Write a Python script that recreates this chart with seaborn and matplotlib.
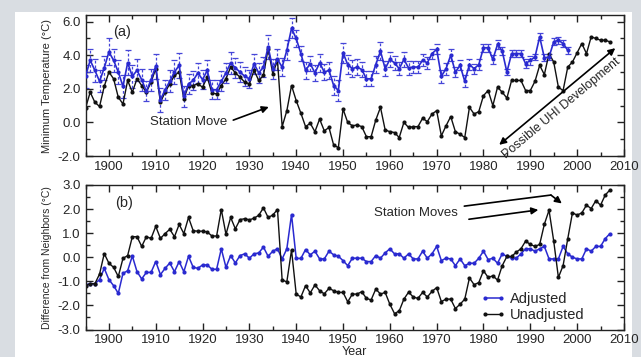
import numpy as np
import pandas as pd
import seaborn as sns
import matplotlib
matplotlib.use('Agg')
import matplotlib.pyplot as plt
from matplotlib.ticker import MultipleLocator, FormatStrFormatter
from matplotlib.patches import Rectangle

# years
years_all = np.arange(1895, 2008)
years_adj_top = np.arange(1895, 1999)

# (a) minimum temperature, unadjusted (black)
unadj_top = [0.85, 1.8, 1.2, 0.95, 2.15,
             3.0, 2.6, 1.5, 1.1, 2.5, 1.8, 2.6, 2.2, 1.8, 2.4,
             3.2, 1.2, 1.8, 2.3, 2.8, 3.0, 1.4, 2.2, 2.2, 2.3,
             2.1, 2.7, 1.75, 1.7, 2.2, 2.6, 3.3, 2.95, 2.7, 2.4,
             2.3, 3.1, 2.5, 2.8, 4.4, 2.9, 3.7, -0.25, 0.7, 2.2,
             1.3, 0.55, -0.25, -0.05, -0.55, 0.2, -0.5, -0.3, -1.35, -1.5,
             0.8, 0.0, -0.2, -0.15, -0.25, -0.85, -0.85, 0.15, 0.9, -0.45,
             -0.55, -0.6, -0.9, 0.0, -0.3, -0.25, -0.25, 0.25, 0.05, 0.5,
             0.7, -0.8, -0.2, 0.35, -0.55, -0.7, -0.9, 0.9, 0.5, 0.65,
             1.6, 1.9, 1.0, 2.1, 1.8, 1.45, 2.5, 2.5, 2.5, 1.9,
             1.9, 2.45, 3.4, 2.85, 4.1, 3.6, 2.1, 1.9, 3.3, 3.6,
             4.15, 4.7, 4.1, 5.1, 5.0, 4.9, 4.9, 4.8]

# (a) minimum temperature, adjusted (blue) with error bars
adj_top = [2.75, 3.7, 3.1, 2.45, 3.25,
           4.2, 3.7, 3.0, 2.15, 3.55, 2.75, 3.1, 2.55, 1.85, 2.55,
           3.35, 1.35, 1.95, 2.45, 3.0, 3.4, 1.55, 2.3, 2.5, 2.95,
           2.55, 3.1, 1.95, 1.95, 2.45, 2.95, 3.55, 3.25, 3.0, 2.75,
           2.6, 3.5, 2.95, 3.3, 4.5, 3.2, 3.75, 3.3, 4.3, 5.6,
           5.0, 4.1, 3.1, 3.5, 2.95, 3.55, 3.0, 3.1, 2.2, 1.9,
           4.15, 3.45, 3.2, 3.3, 3.15, 2.6, 2.6, 3.45, 4.25, 3.2,
           3.75, 3.55, 3.2, 3.75, 3.25, 3.3, 3.3, 3.7, 3.55, 4.1,
           4.35, 2.75, 3.2, 4.0, 3.0, 3.4, 2.45, 3.45, 3.2, 3.45,
           4.45, 4.45, 3.75, 4.65, 4.25, 3.0, 4.1, 4.1, 4.1, 3.5,
           3.7, 3.9, 5.1, 3.85, 3.9, 4.8, 4.9, 4.7, 4.3]

err_top = [0.7, 0.7, 0.7, 0.65, 0.7, 0.8, 0.7, 0.7, 0.7, 0.75,
           0.7, 0.65, 0.65, 0.6, 0.65, 0.75, 0.7, 0.6, 0.65, 0.7,
           0.75, 0.65, 0.6, 0.55, 0.6, 0.55, 0.6, 0.55, 0.55, 0.6,
           0.6, 0.65, 0.6, 0.6, 0.55, 0.55, 0.6, 0.6, 0.6, 0.7,
           0.6, 0.6, 0.55, 0.6, 0.6, 0.5, 0.45, 0.5, 0.45, 0.5,
           0.55, 0.5, 0.5, 0.55, 0.6, 0.6, 0.55, 0.5, 0.5, 0.45,
           0.45, 0.45, 0.5, 0.55, 0.45, 0.45, 0.4, 0.4, 0.45, 0.4,
           0.35, 0.35, 0.35, 0.35, 0.3, 0.3, 0.4, 0.35, 0.35, 0.3,
           0.3, 0.35, 0.3, 0.3, 0.3, 0.25, 0.25, 0.25, 0.25, 0.25,
           0.2, 0.2, 0.2, 0.2, 0.25, 0.25, 0.2, 0.2, 0.2, 0.2,
           0.2, 0.2, 0.2, 0.2]

# (b) difference from neighbors
unadj_bot = [-1.18, -1.1, -1.1, -0.7, 0.15,
             -0.25, -0.42, -0.8, -0.05, 0.07, 0.85, 0.85, 0.45, 0.85, 0.78,
             1.28, 0.78, 0.98, 1.16, 0.85, 1.36, 0.98, 1.65, 1.1, 1.08,
             1.08, 1.05, 0.88, 0.88, 1.98, 0.95, 1.65, 1.18, 1.56, 1.6,
             1.55, 1.62, 1.74, 2.05, 1.65, 1.75, 1.98, -0.95, -1.02, 0.3,
             -1.53, -1.65, -1.18, -1.48, -1.15, -1.39, -1.52, -1.29, -1.39, -1.46,
             -1.46, -1.85, -1.53, -1.53, -1.43, -1.71, -1.77, -1.32, -1.53, -1.46,
             -1.95, -2.34, -2.23, -1.74, -1.45, -1.65, -1.71, -1.46, -1.65, -1.42,
             -1.26, -1.84, -1.74, -1.74, -2.13, -1.95, -1.74, -0.86, -1.14, -1.05,
             -0.56, -0.84, -0.77, -0.95, -0.35, 0.03, 0.03, 0.21, 0.35, 0.67,
             0.53, 0.45, 0.53, 1.37, 1.95, 0.67, -0.84, -0.35, 0.77, 1.84,
             1.75, 1.84, 2.16, 2.02, 2.35, 2.16, 2.58, 2.79]

adj_bot = [-1.15, -1.1, -1.1, -0.93, -0.46,
           -0.93, -1.18, -1.5, -0.67, -0.56, 0.05, -0.6, -0.9, -0.63, -0.63,
           -0.18, -0.72, -0.46, -0.24, -0.6, -0.18, -0.6, 0.04, -0.42, -0.46,
           -0.32, -0.32, -0.5, -0.5, 0.35, -0.42, 0.07, -0.24, 0.07, 0.14,
           -0.04, 0.14, 0.18, 0.42, 0.04, 0.25, 0.35, -0.07, 0.35, 1.77,
           -0.05, -0.05, 0.32, 0.1, 0.25, -0.07, -0.07, 0.25, 0.1, 0.04,
           -0.14, -0.35, -0.04, -0.04, -0.04, -0.18, -0.18, 0.07, -0.04, 0.18,
           0.35, 0.14, 0.14, -0.04, 0.14, -0.07, -0.07, 0.25, -0.04, 0.14,
           0.45, -0.14, -0.04, -0.07, -0.35, -0.07, -0.35, -0.25, -0.25, -0.04,
           0.25, -0.1, -0.04, -0.25, 0.14, 0.03, -0.04, -0.04, 0.14, 0.35,
           0.35, 0.25, 0.35, 0.45, -0.07, -0.07, -0.07, 0.45, 0.14, 0.0,
           -0.07, -0.07, 0.35, 0.25, 0.45, 0.45, 0.77, 0.98]

BLUE = '#2a2ad0'
BLACK = '#111111'

sns.set_style('ticks')
plt.rcParams['font.family'] = ['Liberation Sans', 'DejaVu Sans']
plt.rcParams['axes.linewidth'] = 1.0

fig = plt.figure(figsize=(6.41, 3.57), dpi=100)
fig.patch.set_facecolor('#d9dde2')
fig.patches.append(Rectangle((15 / 641, 0), 617 / 641, 345 / 357,
                             transform=fig.transFigure, facecolor='white',
                             edgecolor='none', zorder=-1))

ax1 = fig.add_axes([0.1334, 0.563, 0.840, 0.395])
ax2 = fig.add_axes([0.1334, 0.077, 0.840, 0.405])

# --- panel (a)
eb = ax1.errorbar(years_adj_top, adj_top, yerr=err_top, fmt='none',
                  ecolor='#4646d8', elinewidth=0.9, capsize=2, capthick=0.9)
eb[2][0].set_linestyle((0, (2.2, 1.6)))
sns.lineplot(x=years_adj_top, y=adj_top, ax=ax1, color=BLUE, marker='o',
             markersize=3, markeredgewidth=0, linewidth=1.2, zorder=3)
sns.lineplot(x=years_all, y=unadj_top, ax=ax1, color=BLACK, marker='o',
             markersize=3, markeredgewidth=0, linewidth=1.0, zorder=2)

ax1.set_xlim(1895, 2010)
ax1.set_ylim(-2, 6.4)
ax1.yaxis.set_major_locator(MultipleLocator(2))
ax1.yaxis.set_minor_locator(MultipleLocator(1))
ax1.set_ylabel('Minimum Temperature (°C)', fontsize=8, labelpad=4)
ax1.text(1902.8, 5.4, '(a)', fontsize=10.5, ha='center', va='center')
ax1.text(1917, 0.05, 'Station Move', fontsize=9.5, ha='center', va='center')
ax1.annotate('', xy=(1934.7, 0.98), xytext=(1926.0, 0.08),
             arrowprops=dict(arrowstyle='-|>', color='black', lw=1.2,
                             mutation_scale=10))
ax1.annotate('', xy=(2008.6, 4.53), xytext=(1982.9, -1.44),
             arrowprops=dict(arrowstyle='<|-|>', color='black', lw=1.2,
                             mutation_scale=10))
ax1.text(1996.6, 0.87, 'Possible UHI Development', fontsize=9, rotation=40,
         ha='center', va='center', rotation_mode='anchor')

# --- panel (b)
sns.lineplot(x=years_all, y=adj_bot, ax=ax2, color=BLUE, marker='o',
             markersize=3, markeredgewidth=0, linewidth=1.1, label='Adjusted')
sns.lineplot(x=years_all, y=unadj_bot, ax=ax2, color=BLACK, marker='o',
             markersize=3, markeredgewidth=0, linewidth=1.0, label='Unadjusted')

ax2.set_xlim(1895, 2010)
ax2.set_ylim(-3, 3)
ax2.yaxis.set_major_locator(MultipleLocator(1))
ax2.yaxis.set_minor_locator(MultipleLocator(0.5))
ax2.set_ylabel('Difference from Neighbors (°C)', fontsize=7.5, labelpad=4)
ax2.set_xlabel('Year', fontsize=9, labelpad=0)
ax2.text(1903.2, 2.23, '(b)', fontsize=10.5, ha='center', va='center')
ax2.text(1965.6, 1.82, 'Station Moves', fontsize=9.5, ha='center', va='center')
ax2.plot([1975.9, 1994.4], [2.12, 2.58], color='black', lw=1.2)
ax2.annotate('', xy=(1997.2, 2.16), xytext=(1994.4, 2.58),
             arrowprops=dict(arrowstyle='-|>', color='black', lw=1.2,
                             mutation_scale=10, shrinkA=0))
ax2.annotate('', xy=(1992.3, 1.98), xytext=(1976.3, 1.56),
             arrowprops=dict(arrowstyle='-|>', color='black', lw=1.2,
                             mutation_scale=10))
ax2.legend(loc='upper left', bbox_to_anchor=(0.72, 0.31), frameon=False,
           fontsize=10.5, handlelength=1.7, handletextpad=0.3,
           labelspacing=0.15, numpoints=2, borderpad=0)

for ax in (ax1, ax2):
    ax.xaxis.set_major_locator(MultipleLocator(10))
    ax.xaxis.set_minor_locator(MultipleLocator(5))
    ax.yaxis.set_major_formatter(FormatStrFormatter('%.1f'))
    ax.tick_params(which='both', direction='in', top=True, right=True,
                   labelsize=9.5, color='#222222')
    ax.tick_params(which='major', length=5, width=1)
    ax.tick_params(which='minor', length=3, width=1)
    for s in ax.spines.values():
        s.set_color('#222222')

fig.savefig('out.png', dpi=100, facecolor=fig.get_facecolor())
